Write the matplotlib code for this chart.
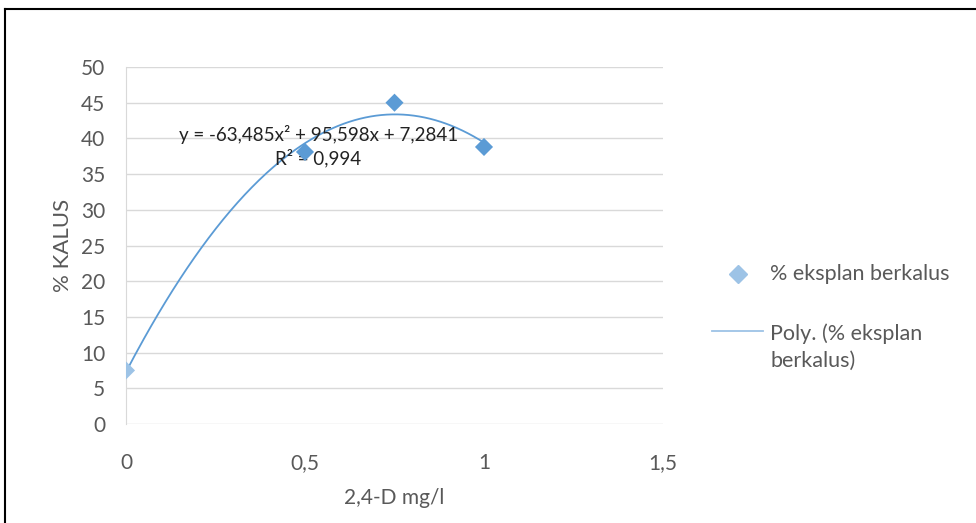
import numpy as np
import matplotlib
matplotlib.use("Agg")
import matplotlib.pyplot as plt
from matplotlib.lines import Line2D

# Data
dose = [0, 0.5, 0.75, 1]
kalus = [7.5, 38.1, 45.0, 38.8]
eq_text = "y = -63,485x² + 95,598x + 7,2841"
r2_text = "R² = 0,994"
xticks = [0, 0.5, 1, 1.5]
xticklabels = ["0", "0,5", "1", "1,5"]
yticks = list(range(0, 51, 5))
series_label = "% eksplan berkalus"
trend_label = "Poly. (% eksplan\nberkalus)"

plt.rcParams['font.family'] = ['Lato', 'DejaVu Sans']

W, H = 976, 523
fig = plt.figure(figsize=(W/100, H/100), dpi=100)
ax = fig.add_axes([126/W, 1-424/H, (663-126)/W, (424-67)/H])

coef = np.polyfit(dose, kalus, 2)
xs = np.linspace(0, 1, 200)
ax.plot(xs, np.polyval(coef, xs), color='#5B9BD5', lw=1.3, zorder=3)
ax.scatter(dose, kalus, marker='D', s=85,
           color=['#9DC3E6', '#5B9BD5', '#5B9BD5', '#5B9BD5'], zorder=4, linewidths=0)

ax.set_xlim(0, 1.5)
ax.set_ylim(0, 50)
ax.set_xticks(xticks)
ax.set_xticklabels(xticklabels)
ax.set_yticks(yticks)
ax.grid(axis='y', color='#D9D9D9', lw=1)
ax.set_axisbelow(True)
for s in ['top', 'right', 'bottom']:
    ax.spines[s].set_visible(False)
ax.spines['left'].set_color('#D9D9D9')
ax.tick_params(length=0, labelsize=15, colors='#595959')
ax.tick_params(axis='y', pad=15)
ax.tick_params(axis='x', pad=21)
ax.set_ylabel('% KALUS', fontsize=16, color='#595959', labelpad=6)
ax.set_xlabel('2,4-D mg/l', fontsize=15, color='#595959', labelpad=11)

ax.text(0.537, 40.6, eq_text, ha='center', va='center', fontsize=13.5, color='#222222')
ax.text(0.537, 37.3, r2_text, ha='center', va='center', fontsize=13.5, color='#222222')

# legend (drawn manually to match layout)
def fx(px):
    return px / W
def fy(py):
    return 1 - py / H
fig.add_artist(Line2D([fx(738)], [fy(274)], marker='D', ls='none', color='#9DC3E6', markersize=9))
fig.text(fx(770), fy(274), series_label, fontsize=15.5, color='#595959', va='center', ha='left')
fig.add_artist(Line2D([fx(712), fx(763)], [fy(331), fy(331)], color='#9DC3E6', lw=1.3))
fig.text(fx(770), fy(347), trend_label, fontsize=15.5, color='#595959', va='center', ha='left',
         linespacing=1.45)

# outer frame
fig.add_artist(Line2D([fx(5), 1.0], [fy(9), fy(9)], color='black', lw=1.5))
fig.add_artist(Line2D([fx(5), fx(5)], [0, fy(9)], color='black', lw=1.5))

fig.savefig('out.png', dpi=100)
